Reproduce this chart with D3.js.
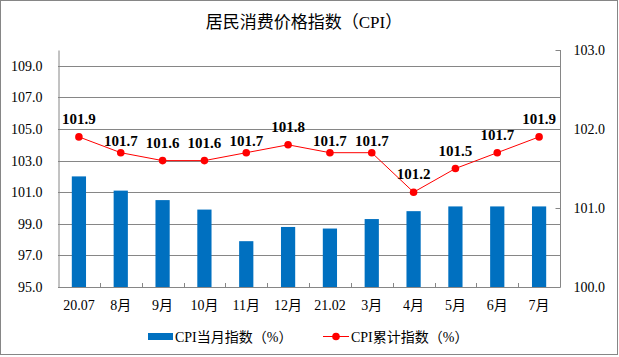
<!DOCTYPE html>
<html>
<head>
<meta charset="utf-8">
<script src="https://cdn.jsdelivr.net/npm/d3@7"></script>
<style>
  html, body { margin: 0; padding: 0; background: #fff; }
  svg { display: block; }
  text { font-family: "Liberation Serif", "Times New Roman", "Noto Sans CJK SC", serif; }
</style>
</head>
<body>
<svg id="chart" width="619" height="357"></svg>
<script>
const titleText = "居民消费价格指数（CPI）";
const categories = ["20.07", "8月", "9月", "10月", "11月", "12月", "21.02", "3月", "4月", "5月", "6月", "7月"];
const monthlyCPI = [102.0, 101.1, 100.5, 99.9, 97.9, 98.8, 98.7, 99.3, 99.8, 100.1, 100.1, 100.1];
const cumulativeCPI = [101.9, 101.7, 101.6, 101.6, 101.7, 101.8, 101.7, 101.7, 101.2, 101.5, 101.7, 101.9];
const leftTicks = [95, 97, 99, 101, 103, 105, 107, 109];
const rightTicks = [100, 101, 102, 103];
const legendLabels = ["CPI当月指数（%）", "CPI累计指数（%）"];

const svg = d3.select("#chart");
const W = 619, H = 357;
const plot = { left: 58, right: 560, top: 50, bottom: 287 };
const gridColor = "#868686";
const barColor = "#0070c0";
const lineColor = "#ff0000";

// outer border
svg.append("rect").attr("x", 0.5).attr("y", 0.5).attr("width", 617).attr("height", 354)
  .attr("fill", "#fff").attr("stroke", gridColor).attr("stroke-width", 1);

// title
svg.append("text").attr("x", 304).attr("y", 27.5).attr("text-anchor", "middle")
  .attr("font-size", 17).attr("fill", "#000").text(titleText);

const x = d3.scaleBand().domain(categories).range([plot.left, plot.right])
  .paddingInner(0.66).paddingOuter(0.33);
const step = x.step();
const yL = d3.scaleLinear().domain([95, 110]).range([plot.bottom, plot.top]);
const yR = d3.scaleLinear().domain([100, 103]).range([plot.bottom, plot.top]);

// gridlines
svg.append("g").selectAll("line").data(leftTicks.filter(t => t !== 95)).join("line")
  .attr("x1", plot.left).attr("x2", plot.right)
  .attr("y1", d => Math.round(yL(d)) + 0.5).attr("y2", d => Math.round(yL(d)) + 0.5)
  .attr("stroke", gridColor).attr("stroke-width", 1);

// bars
svg.append("g").selectAll("rect").data(categories).join("rect")
  .attr("x", (d) => x(d))
  .attr("width", x.bandwidth())
  .attr("y", (d, i) => yL(monthlyCPI[i]))
  .attr("height", (d, i) => yL(95) - yL(monthlyCPI[i]))
  .attr("fill", barColor);

// left axis
const axL = svg.append("g").attr("transform", `translate(${plot.left + 0.5},0)`)
  .call(d3.axisLeft(yL).tickValues(leftTicks).tickFormat(d3.format(".1f")).tickSize(0).tickPadding(16));
axL.select(".domain").attr("stroke", gridColor);
axL.selectAll("text").attr("font-size", 14).attr("fill", "#000").attr("font-family", null);

// right axis
const axR = svg.append("g").attr("transform", `translate(${plot.right + 0.5},0)`)
  .call(d3.axisRight(yR).tickValues(rightTicks).tickFormat(d3.format(".1f")).tickSize(-5).tickPadding(13));
axR.select(".domain").attr("stroke", gridColor).attr("d", `M0,${plot.top}V${plot.bottom}`);
axR.selectAll("line").attr("stroke", gridColor);
axR.selectAll("text").attr("font-size", 14).attr("fill", "#000").attr("font-family", null);

// bottom axis
const axB = svg.append("g").attr("transform", `translate(0,${plot.bottom + 0.5})`)
  .call(d3.axisBottom(x).tickSize(0).tickPadding(13));
axB.select(".domain").attr("stroke", gridColor).attr("d", `M${plot.left},0H${plot.right + 0.5}`);
axB.selectAll("text").attr("font-size", 14).attr("fill", "#000").attr("font-family", null);
// inward tick marks at category boundaries
const bounds = d3.range(categories.length + 1).map(i => plot.left + i * step);
svg.append("g").selectAll("line").data(bounds.slice(1, -1)).join("line")
  .attr("x1", d => Math.round(d) + 0.5).attr("x2", d => Math.round(d) + 0.5)
  .attr("y1", plot.bottom - 4).attr("y2", plot.bottom)
  .attr("stroke", gridColor);

// line series
const cx = (d, i) => x(categories[i]) + x.bandwidth() / 2;
const line = d3.line().x((d, i) => cx(d, i)).y(d => yR(d));
svg.append("path").datum(cumulativeCPI).attr("d", line)
  .attr("fill", "none").attr("stroke", lineColor).attr("stroke-width", 1);
svg.append("g").selectAll("circle").data(cumulativeCPI).join("circle")
  .attr("cx", cx).attr("cy", d => yR(d)).attr("r", 3.8).attr("fill", lineColor);

// data labels (some were nudged down in the original)
const nudged = new Set([1, 4, 6, 7]);
svg.append("g").selectAll("text").data(cumulativeCPI).join("text")
  .attr("x", cx)
  .attr("y", (d, i) => yR(d) - (nudged.has(i) ? 12 : 18) + 5)
  .attr("text-anchor", "middle").attr("font-size", 15).attr("font-weight", "bold")
  .attr("fill", "#000").text(d => d3.format(".1f")(d));

// legend
const lg = svg.append("g");
lg.append("rect").attr("x", 148).attr("y", 333).attr("width", 25).attr("height", 7).attr("fill", barColor);
lg.append("text").attr("x", 175).attr("y", 341.5).attr("font-size", 14).attr("fill", "#000").text(legendLabels[0]);
lg.append("line").attr("x1", 323).attr("x2", 349).attr("y1", 336.5).attr("y2", 336.5)
  .attr("stroke", lineColor).attr("stroke-width", 1);
lg.append("circle").attr("cx", 336).attr("cy", 336.5).attr("r", 3.8).attr("fill", lineColor);
lg.append("text").attr("x", 351).attr("y", 341.5).attr("font-size", 14).attr("fill", "#000").text(legendLabels[1]);
</script>
</body>
</html>
